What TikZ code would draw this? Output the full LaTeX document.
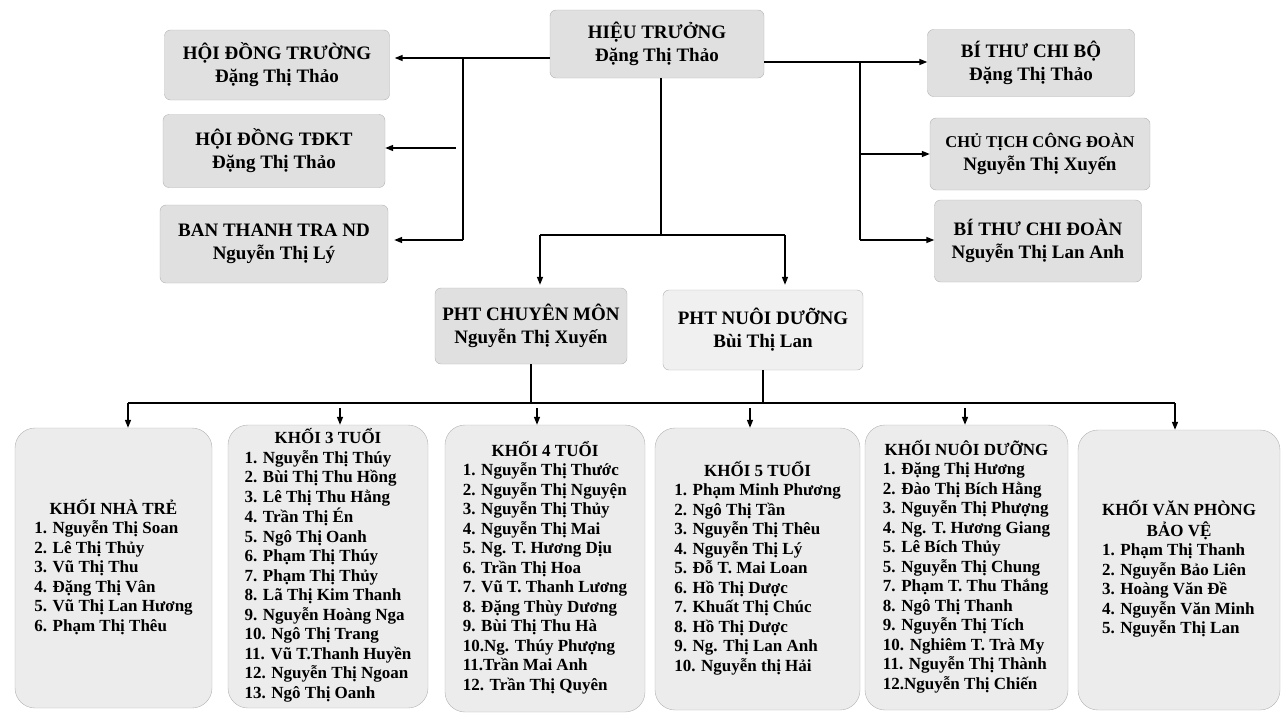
\documentclass[tikz,border=0pt]{standalone}
\usepackage{fontspec}
\setmainfont{Liberation Serif}
\usetikzlibrary{arrows.meta}

\tikzset{
  hopbox/.style={draw=gray!60, fill=gray!24, rounded corners=6pt, inner sep=0pt, align=center,
    font=\fontsize{19}{23}\selectfont\bfseries},
  khoibox/.style={draw=gray!60, fill=gray!15, rounded corners=20pt, inner sep=0pt,
    font=\fontsize{17}{19.5}\selectfont\bfseries},
  noi/.style={line width=1.5pt},
  muiten/.style={line width=1.5pt, -{Triangle[length=8pt,width=6pt]}},
}
\newcommand{\tieude}[1]{\multicolumn{1}{@{}c@{}}{#1}}
\newcommand{\khoilist}[2]{\begin{tabular}{@{}l@{}}#1\\#2\end{tabular}}

\begin{document}
\begin{tikzpicture}[x=1pt,y=-1pt]
\useasboundingbox (0,0) rectangle (1287,715);
% top row:
\node[hopbox, minimum width=214pt, minimum height=68pt] (ht) at (657,44) {HIỆU TRƯỞNG\\Đặng Thị Thảo};
\node[hopbox, minimum width=225pt, minimum height=70pt] (hdt) at (277,65) {HỘI ĐỒNG TRƯỜNG\\Đặng Thị Thảo};
\node[hopbox, minimum width=222pt, minimum height=73pt] (tdkt) at (274,151) {HỘI ĐỒNG TĐKT\\Đặng Thị Thảo};
\node[hopbox, minimum width=228pt, minimum height=78pt] (ttnd) at (274,244) {BAN THANH TRA ND\\Nguyễn Thị Lý};
\node[hopbox, minimum width=207pt, minimum height=67pt] (btcb) at (1031,63) {BÍ THƯ CHI BỘ\\Đặng Thị Thảo};
\node[hopbox, minimum width=220pt, minimum height=72pt] (ctcd) at (1040,154) {{\fontsize{16.5}{23}\selectfont CHỦ TỊCH CÔNG ĐOÀN}\\Nguyễn Thị Xuyến};
\node[hopbox, minimum width=207pt, minimum height=82pt] (btcd) at (1038,241) {BÍ THƯ CHI ĐOÀN\\Nguyễn Thị Lan Anh};
% deputies:
\node[hopbox, minimum width=192pt, minimum height=76pt] (pcm) at (531,326) {PHT CHUYÊN MÔN\\Nguyễn Thị Xuyến};
\node[hopbox, minimum width=200pt, minimum height=80pt, fill=gray!12] (pnd) at (763,330) {PHT NUÔI DƯỠNG\\Bùi Thị Lan};

% left branch:
\coordinate (tl) at (463,58);
\coordinate (ml) at (456,148);
\coordinate (bl) at (463,240);
\draw[muiten, shorten >=5pt] (ht.west |- tl) -- (hdt.east |- tl);
\draw[noi] (tl) -- (bl);
\draw[muiten] (ml) -- (tdkt.east |- ml);
\draw[muiten, shorten >=6pt] (bl) -- (ttnd.east |- bl);
% right branch:
\coordinate (tr) at (860,62);
\coordinate (br) at (860,240);
\draw[muiten] (ht.east |- tr) -- (btcb.west |- tr);
\draw[noi] (tr) -- (br);
\draw[muiten] (tr |- ctcd.west) -- (ctcd.west);
\draw[muiten] (br) -- (btcd.west |- br);
% down to deputies:
\coordinate (bmL) at (540,235);
\coordinate (bmC) at (661,235);
\coordinate (bmR) at (785,235);
\draw[noi] (bmC |- ht.south) -- (bmC);
\draw[noi] (bmL) -- (bmR);
\draw[muiten, shorten >=3pt] (bmL) -- (bmL |- pcm.north);
\draw[muiten, shorten >=5pt] (bmR) -- (bmR |- pnd.north);

% groups:
\node[khoibox, minimum width=197pt, minimum height=280pt] (nt) at (113.5,568) {\khoilist{\tieude{KHỐI NHÀ TRẺ}}{1. Nguyễn Thị Soan\\2. Lê Thị Thủy\\3. Vũ Thị Thu\\4. Đặng Thị Vân\\5. Vũ Thị Lan Hương\\6. Phạm Thị Thêu}};
\node[khoibox, minimum width=200pt, minimum height=283pt] (k3) at (328,566.5) {\khoilist{\tieude{KHỐI 3 TUỔI}}{1. Nguyễn Thị Thúy\\2. Bùi Thị Thu Hồng\\3. Lê Thị Thu Hằng\\4. Trần Thị Én\\5. Ngô Thị Oanh\\6. Phạm Thị Thúy\\7. Phạm Thị Thủy\\8. Lã Thị Kim Thanh\\9. Nguyễn Hoàng Nga\\10. Ngô Thị Trang\\11. Vũ T.Thanh Huyền\\12. Nguyễn Thị Ngoan\\13. Ngô Thị Oanh}};
\node[khoibox, minimum width=200pt, minimum height=287pt] (k4) at (545,568.5) {\khoilist{\tieude{KHỐI 4 TUỔI}}{1. Nguyễn Thị Thước\\2. Nguyễn Thị Nguyện\\3. Nguyễn Thị Thủy\\4. Nguyễn Thị Mai\\5. Ng. T. Hương Dịu\\6. Trần Thị Hoa\\7. Vũ T. Thanh Lương\\8. Đặng Thùy Dương\\9. Bùi Thị Thu Hà\\10.Ng. Thúy Phượng\\11.Trần Mai Anh\\12. Trần Thị Quyên}};
\node[khoibox, minimum width=205pt, minimum height=282pt] (k5) at (757.5,569) {\khoilist{\tieude{KHỐI 5 TUỔI}}{1. Phạm Minh Phương\\2. Ngô Thị Tần\\3. Nguyễn Thị Thêu\\4. Nguyễn Thị Lý\\5. Đỗ T. Mai Loan\\6. Hồ Thị Dược\\7. Khuất Thị Chúc\\8. Hồ Thị Dược\\9. Ng. Thị Lan Anh\\10. Nguyễn thị Hải}};
\node[khoibox, minimum width=203pt, minimum height=285pt] (knd) at (966.5,567.5) {\khoilist{\tieude{KHỐI NUÔI DƯỠNG}}{1. Đặng Thị Hương\\2. Đào Thị Bích Hằng\\3. Nguyễn Thị Phượng\\4. Ng. T. Hương Giang\\5. Lê Bích Thủy\\5. Nguyễn Thị Chung\\7. Phạm T. Thu Thắng\\8. Ngô Thị Thanh\\9. Nguyễn Thị Tích\\10. Nghiêm T. Trà My\\11. Nguyễn Thị Thành\\12.Nguyễn Thị Chiến}};
\node[khoibox, minimum width=202pt, minimum height=280pt] (kvp) at (1179,570) {\khoilist{\tieude{KHỐI VĂN PHÒNG}\\\tieude{BẢO VỆ}}{1. Phạm Thị Thanh\\2. Nguyễn Bảo Liên\\3. Hoàng Văn Đề\\4. Nguyễn Văn Minh\\5. Nguyễn Thị Lan}};

% lower bus:
\coordinate (busL) at (128,403);
\coordinate (busR) at (1175,403);
\draw[noi] (pcm.south) -- (pcm.south |- busL);
\draw[noi] (pnd.south) -- (pnd.south |- busL);
\draw[noi] (busL) -- (busR);
\foreach \k/\ax/\ay in {nt/128/403, k3/340/408, k4/537/408, k5/750/408, knd/965/408, kvp/1175/403}
  \draw[muiten] (\ax,\ay) -- (\k.north -| \ax,0);
\end{tikzpicture}
\end{document}
